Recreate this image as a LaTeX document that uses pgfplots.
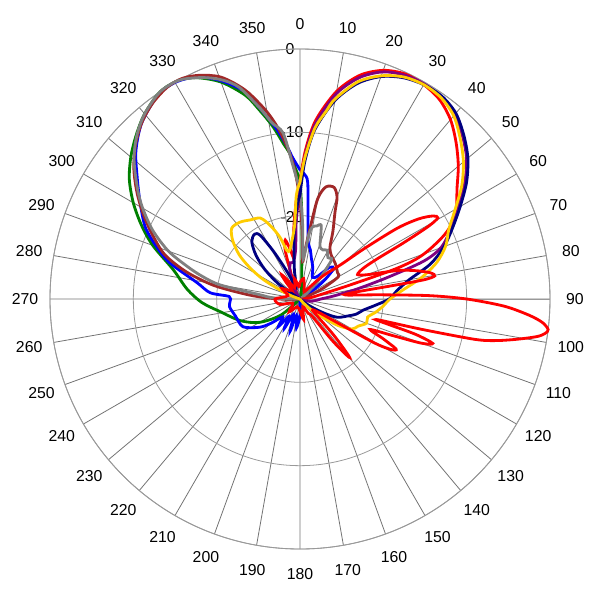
\documentclass[border=0pt]{standalone}
\usepackage{fontspec}
\setmainfont{Liberation Sans}
\usepackage{pgfplots}
\pgfplotsset{compat=1.18}
\usepgfplotslibrary{polar}
\definecolor{cRed}{RGB}{255,0,0}
\definecolor{cPurple}{RGB}{128,0,128}
\definecolor{cNavy}{RGB}{0,0,128}
\definecolor{cGold}{RGB}{255,204,0}
\definecolor{cBrown}{RGB}{160,40,40}
\definecolor{cGray}{RGB}{128,128,128}
\definecolor{cGreen}{RGB}{0,128,0}
\definecolor{cBlue}{RGB}{0,0,255}
\begin{document}
\begin{tikzpicture}
\useasboundingbox (-6cm,-6.02cm) rectangle (6cm,5.98cm);
\begin{scope}[font=\fontsize{9}{10}\selectfont]
\node at (-0.2cm,5.0cm) {0};
\node at (-0.16cm,3.34cm) {-10};
\node at (-0.16cm,1.64cm) {-20};
\foreach \a in {0,10,...,350} {\node at ({90-\a}:5.5cm) {\a};}
\end{scope}
\begin{polaraxis}[
  at={(0,0)}, anchor=center,
  scale only axis, width=10cm, height=10cm,
  xmin=0, xmax=360, ymin=0, ymax=30,
  xtick={0,10,...,350}, xticklabels={},
  ytick={10,20,30}, yticklabels={},
  xmajorgrids, ymajorgrids,
  x grid style={black!55, line width=0.45pt},
  y grid style={black!40, line width=0.45pt},
  axis line style={black!40, line width=0.5pt},
  tick style={draw=none},
  clip=false,
  x filter/.expression={mod(450-x,360)},
  y filter/.expression={max(y+30,0)},
  every axis plot/.append style={line width=1.6pt, smooth, tension=0.5},
]
% green
\addplot[cGreen] coordinates {(0,-15.7)(1,-19)(2,-22.9)(4,-27)(10,-29)(20,-30)(220,-30)(230,-27)(240,-24.4)(250,-22.4)(261,-20.3)(268,-18.2)(275,-16.4)(283,-14.4)(290,-11.2)(295,-9)(300,-6.9)(305,-5)(310,-3.5)(315,-2.2)(320,-1)(326,0)(331,0)(335,-0.7)(340,-2.3)(345,-4.7)(348,-6.9)(351,-9)(354,-11.3)(356,-12.5)(358,-14.3)(360,-15.7)};
% blue
\addplot[cBlue] coordinates {(0,-14.5)(2,-15)(3.8,-16)(5.8,-20.5)(8,-23)(12,-24)(16,-25)(22,-25.9)(30,-27)(38,-26.5)(43,-24.8)(48,-24.6)(53,-26.5)(60,-29)(70,-30)(170,-30)(180,-28)(187,-26.5)(192,-28)(197,-26)(203,-28)(208,-26)(213,-27.5)(218,-25.8)(224,-27)(230,-25.5)(235,-24.1)(244,-22.4)(255,-22)(263.5,-21.5)(268,-21.6)(272,-21.5)(274,-19.2)(279,-17.5)(285.5,-13.8)(290,-11.7)(295,-9.5)(301.7,-7.4)(306.8,-5.6)(312,-3.5)(318,-1.6)(325,-0.2)(330,0)(335,-0.6)(340,-2.1)(345,-4.2)(348,-6.5)(352,-9.3)(355,-11.5)(357,-13)(360,-14.5)};
% brown
\addplot[cBrown] coordinates {(0,-18)(2,-22)(4,-25.5)(6,-24)(8,-21.6)(10,-17.8)(13,-16.2)(17,-16)(20,-17)(22,-18.8)(26,-21)(30,-22.8)(35,-23.5)(45,-24)(55,-24.5)(60,-24.7)(65,-27)(70,-29)(80,-30)(262,-30)(268,-28.5)(272,-26)(275,-23.5)(279,-19.5)(283.4,-16)(288,-13)(293,-10.9)(298,-8.8)(303,-6.7)(308,-4.7)(313,-3)(318,-1.6)(323,-0.6)(328,0)(332,0)(336,-0.6)(340,-1.6)(343,-2.9)(346,-4.5)(350,-7.2)(353,-9.6)(356,-12.5)(358,-15)(360,-18)};
% gray
\addplot[cGray] coordinates {(0,-17)(2,-21)(4,-25)(6,-24.5)(8,-22)(10,-21.2)(13,-21)(16,-20.8)(19,-22.5)(21,-23.3)(25,-23.5)(29,-23.3)(34,-24)(39,-24)(45,-27)(50,-29)(60,-30)(265,-30)(270,-28.5)(273,-26.5)(276,-25.2)(280,-20.3)(283,-18)(286,-16)(290,-13.2)(295,-10.5)(300,-8.2)(304,-6.5)(310,-4)(315,-2.3)(320,-1)(326,0)(331,0)(335,-0.7)(338,-1.4)(341,-2.3)(344,-3.6)(348,-6.5)(351,-8.6)(354.2,-10)(357,-14)(360,-17)};
% red (main beam)
\addplot[cRed] coordinates {(0,-16)(2,-12.3)(5,-8.5)(10,-4.7)(15,-2.2)(20,-0.8)(25,-0.2)(30,-0.3)(35,-0.8)(40,-1.9)(45,-3.5)(50,-5.2)(55,-7)(60,-8.3)(63,-9.3)(66,-11)(69,-13.3)(71,-15.2)(72.5,-18)(74,-23)(77,-27)(85,-29)(100,-30)(300,-30)(315,-29.5)(320,-27.5)(323,-26.4)(326,-27.5)(332,-29)(338,-28)(343,-24)(346,-22.7)(349,-24)(352,-25)(355,-21.5)(358,-18)(360,-16)};
% purple
\addplot[cPurple] coordinates {(0,-16.5)(2,-12.8)(5,-8.9)(10,-5)(15,-2.5)(20,-1)(25,-0.35)(30,-0.2)(35,-0.4)(40,-1.1)(45,-2.4)(50,-3.9)(55,-5.9)(60,-8.2)(65,-10)(70,-12)(73,-14.5)(76,-19)(80,-23)(85,-26)(90,-27.5)(100,-28.5)(110,-29.5)(120,-30)(320,-30)(330,-29)(335,-28)(340,-26.5)(345,-25.5)(350,-25.5)(355,-24)(357,-21)(358.5,-19)(360,-16.5)};
% navy
\addplot[cNavy] coordinates {(0,-17.5)(2,-13.5)(5,-9.6)(10,-5.8)(15,-3.2)(20,-1.6)(25,-0.7)(30,-0.3)(35,-0.3)(40,-0.9)(45,-2.2)(50,-3.7)(55,-5.6)(60,-7.8)(65,-9.8)(70,-11.6)(75,-13.8)(80,-16.7)(85,-18.3)(90,-19.3)(95,-21)(100,-22.3)(105,-23)(110,-24)(116,-25)(120,-26.5)(126,-28.5)(135,-30)(300,-30)(305,-27)(310,-24.5)(315,-22.5)(320,-21)(325,-20.5)(328,-21)(331,-23.5)(335,-26.5)(340,-28.5)(345,-28)(350,-26)(355,-22)(358,-19)(360,-17.5)};
% gold
\addplot[cGold] coordinates {(0,-16)(2,-13)(5,-9.4)(8,-7.2)(10,-5.6)(15,-3)(20,-1.5)(25,-0.6)(30,-0.3)(35,-0.5)(40,-1.3)(45,-2.8)(50,-4.4)(55,-6.3)(60,-8.5)(65,-10.3)(70,-11.4)(75,-13)(80,-15.2)(85,-17.6)(90,-19.2)(95,-20)(100,-20.8)(105,-21.6)(110,-21.5)(115,-22.3)(120,-22.8)(125,-24.5)(130,-27)(135,-28.5)(140,-29.5)(150,-30)(280,-30)(290,-29)(294,-27.5)(298,-25)(302,-22.9)(306,-21)(311,-19.3)(316,-18.2)(322,-18.3)(328,-18.8)(334,-19.2)(338,-20.5)(342,-22.2)(345,-24)(348,-24)(352,-23)(356,-21)(358,-17.5)(360,-16)};
% red (steered beam)
\addplot[cRed] coordinates {(0,-28)(10,-27.5)(20,-28.5)(30,-29)(40,-28)(45,-26)(50,-23.5)(52,-20)(54,-15.5)(56,-12.8)(58,-11.2)(59.5,-10.8)(60.5,-12.3)(61.5,-15.8)(62.5,-19.5)(64,-21.5)(67,-22.5)(70,-21.5)(72,-19.8)(74,-17.5)(76.5,-15.5)(78.7,-14)(80.3,-13.6)(81.2,-15)(81.8,-19)(83,-23.5)(85,-24.5)(87,-20.4)(88.5,-14.5)(90,-10)(92,-5.5)(94,-2.5)(95.5,-0.8)(97,0)(98,-0.3)(99,-1.2)(100.5,-3.5)(102,-6)(103,-8.5)(104,-15)(105,-20.5)(106,-19)(107,-15.5)(108.5,-13.2)(110,-14.5)(111.5,-18)(113.5,-20.8)(115.5,-19)(117.5,-17)(119,-17.5)(120.5,-19.5)(122,-24)(125,-27)(130,-28)(134,-27.5)(137,-24)(139.7,-20.8)(142,-23.5)(145,-27.5)(150,-28)(160,-29)(170,-27.5)(180,-28.5)(200,-29)(220,-28)(240,-29)(255,-27.5)(270,-27)(285,-28.5)(300,-27.5)(315,-28.5)(325,-27)(335,-28.5)(345,-27.5)(355,-28.5)(360,-28)};
\end{polaraxis}
\end{tikzpicture}
\end{document}
